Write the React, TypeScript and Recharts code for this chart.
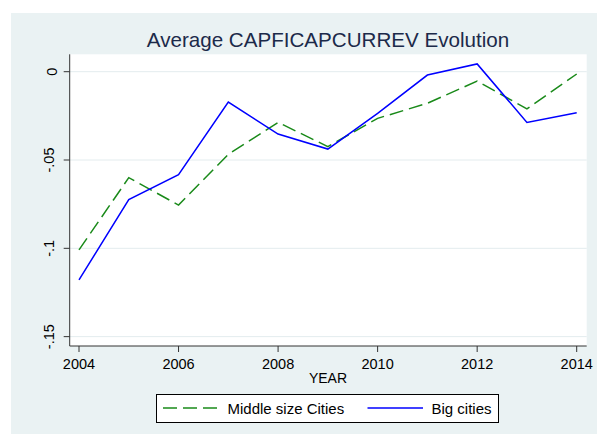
import React from "react";
import { LineChart, Line, XAxis, YAxis, CartesianGrid } from "recharts";

const years = [2004, 2005, 2006, 2007, 2008, 2009, 2010, 2011, 2012, 2013, 2014];
const middleCities = [-0.1009, -0.06, -0.0755, -0.0468, -0.0287, -0.0424, -0.0264, -0.0179, -0.0053, -0.0211, -0.0013];
const bigCities = [-0.1179, -0.0724, -0.0583, -0.0172, -0.0353, -0.0438, -0.0236, -0.0019, 0.0044, -0.0287, -0.0232];
const xTicks = [2004, 2006, 2008, 2010, 2012, 2014];
const yTicks = [0, -0.05, -0.1, -0.15];
const yTickLabels = ["0", "-.05", "-.1", "-.15"];
const title = "Average CAPFICAPCURREV Evolution";
const xLabel = "YEAR";
const seriesNames = ["Middle size Cities", "Big cities"];

const data = years.map((y, i) => ({ year: y, middle: middleCities[i], big: bigCities[i] }));

const W = 597;
const H = 434;
const FONT = "'Liberation Sans', Arial, sans-serif";
const BG = "#EAF2F3";
const GREEN = "#1a8a1a";
const BLUE = "#0000ff";

const YTick = (props: any) => {
  const { x, y, payload } = props;
  const idx = yTicks.indexOf(payload.value);
  const label = idx >= 0 ? yTickLabels[idx] : String(payload.value);
  const bx = payload.value === 0 ? x - 6.5 : x - 10;
  return (
    <text
      x={bx}
      y={y}
      transform={`rotate(-90, ${bx}, ${y})`}
      textAnchor="middle"
      fontFamily={FONT}
      fontSize={14.5}
      fill="#000"
    >
      {label}
    </text>
  );
};

export default function App() {
  return (
    <div style={{ position: "absolute", left: 0, top: 0, width: W, height: H, background: "#fff" }}>
      <svg width={W} height={H} style={{ position: "absolute", left: 0, top: 0 }}>
        <rect x={11} y={13} width={W - 11} height={H - 13} fill={BG} />
      </svg>
      <div style={{ position: "absolute", left: 0, top: 0 }}>
        <LineChart
          width={W}
          height={H}
          data={data}
          margin={{ top: 54.3, right: 10.3, left: 9.7, bottom: 48 }}
        >
          <CartesianGrid vertical={false} fill="#ffffff" stroke="#E3ECEE" strokeWidth={1} horizontalValues={yTicks} />
          <XAxis
            dataKey="year"
            type="number"
            domain={[2004, 2014]}
            ticks={xTicks}
            padding={{ left: 9.3, right: 10 }}
            height={40}
            tickSize={6}
            tickMargin={7}
            stroke="#333"
            tick={{ fill: "#000", fontFamily: FONT, fontSize: 14.5 }}
            interval={0}
          />
          <YAxis
            type="number"
            domain={[-0.1553, 0.00985]}
            ticks={yTicks}
            width={60}
            tickSize={6}
            tickMargin={0}
            stroke="#333"
            tick={<YTick />}
            interval={0}
            allowDataOverflow
          />
          <Line
            type="linear"
            dataKey="middle"
            stroke={GREEN}
            strokeWidth={1.5}
            strokeDasharray="14 6"
            dot={false}
            activeDot={false}
            isAnimationActive={false}
          />
          <Line
            type="linear"
            dataKey="big"
            stroke={BLUE}
            strokeWidth={1.5}
            dot={false}
            activeDot={false}
            isAnimationActive={false}
          />
        </LineChart>
      </div>
      <svg width={W} height={H} style={{ position: "absolute", left: 0, top: 0, pointerEvents: "none" }}>
        <text x={328} y={47.3} textAnchor="middle" fontFamily={FONT} fontSize={20.6} fill="#1c2a4a">
          {title}
        </text>
        <text x={328} y={383.3} textAnchor="middle" fontFamily={FONT} fontSize={14} fill="#000">
          {xLabel}
        </text>
        <rect x={156.5} y={394.5} width={342} height={28} fill="#fff" stroke="#000" strokeWidth={1} />
        <line x1={163} y1={408} x2={219} y2={408} stroke={GREEN} strokeWidth={1.5} strokeDasharray="14 6" />
        <text x={227.5} y={413.5} fontFamily={FONT} fontSize={15} fill="#000">
          {seriesNames[0]}
        </text>
        <line x1={367.5} y1={408} x2={423} y2={408} stroke={BLUE} strokeWidth={1.5} />
        <text x={431.5} y={413.5} fontFamily={FONT} fontSize={15} fill="#000">
          {seriesNames[1]}
        </text>
      </svg>
    </div>
  );
}
